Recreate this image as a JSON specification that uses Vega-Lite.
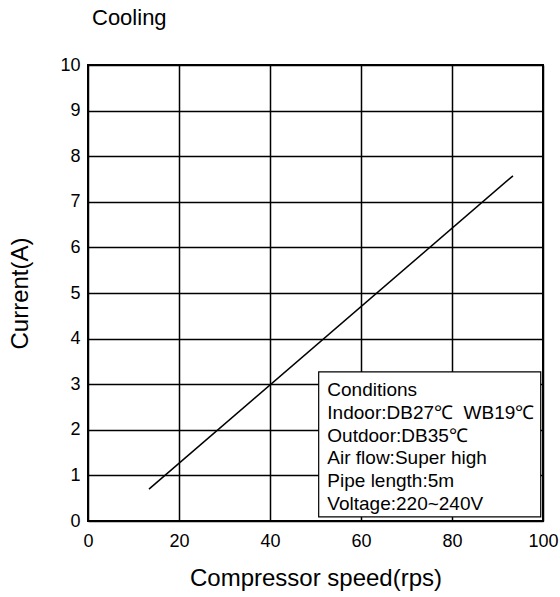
{
  "$schema": "https://vega.github.io/schema/vega-lite/v6.json",
  "width": 455,
  "height": 456,
  "autosize": {"type": "none"},
  "padding": {"left": 88, "top": 65, "right": 17, "bottom": 76},
  "background": "white",
  "config": {
    "font": "Liberation Sans",
    "view": {"stroke": "black", "strokeWidth": 2},
    "axis": {
      "grid": true,
      "gridColor": "black",
      "gridWidth": 1.5,
      "gridOpacity": 1,
      "domain": false,
      "ticks": false,
      "labelFlush": false,
      "labelFont": "Liberation Sans",
      "labelFontSize": 18,
      "labelColor": "black",
      "titleFont": "Liberation Sans",
      "titleFontSize": 24,
      "titleFontWeight": "normal",
      "titleColor": "black"
    }
  },
  "title": {
    "text": "Cooling",
    "anchor": "start",
    "frame": "group",
    "font": "Liberation Sans",
    "fontSize": 22,
    "fontWeight": "normal",
    "color": "black",
    "dx": 4,
    "offset": 26
  },
  "data": {"values": [
    {"speed": 13.4, "current": 0.70},
    {"speed": 93.4, "current": 7.57}
  ]},
  "layer": [
    {
      "mark": {"type": "line", "color": "black", "strokeWidth": 1.5},
      "encoding": {
        "x": {"field": "speed", "type": "quantitative", "scale": {"domain": [0, 100], "nice": false},
              "axis": {"title": "Compressor speed(rps)", "values": [0, 20, 40, 60, 80, 100], "labelPadding": 11, "titlePadding": 16}},
        "y": {"field": "current", "type": "quantitative", "scale": {"domain": [0, 10], "nice": false},
              "axis": {"title": "Current(A)", "values": [0,1,2,3,4,5,6,7,8,9,10], "labelPadding": 8, "titlePadding": 27}}
      }
    },
    {
      "data": {"values": [{"label": "Conditions|Indoor:DB27℃\u00a0\u00a0WB19℃|Outdoor:DB35℃|Air flow:Super high|Pipe length:5m|Voltage:220~240V"}]},
      "mark": {"type": "rect", "fill": "white", "stroke": "black", "strokeWidth": 1.2},
      "encoding": {
        "x": {"datum": 50.7, "type": "quantitative"},
        "x2": {"datum": 99.5},
        "y": {"datum": 3.27, "type": "quantitative"},
        "y2": {"datum": 0.09}
      }
    },
    {
      "data": {"values": [{"label": "Conditions|Indoor:DB27℃\u00a0\u00a0WB19℃|Outdoor:DB35℃|Air flow:Super high|Pipe length:5m|Voltage:220~240V"}]},
      "mark": {"type": "text", "align": "left", "baseline": "top", "lineBreak": "|", "lineHeight": 22.8, "fontSize": 19, "font": "Liberation Sans", "color": "black"},
      "encoding": {
        "x": {"datum": 52.6, "type": "quantitative"},
        "y": {"datum": 3.07, "type": "quantitative"},
        "text": {"field": "label"}
      }
    }
  ]
}
